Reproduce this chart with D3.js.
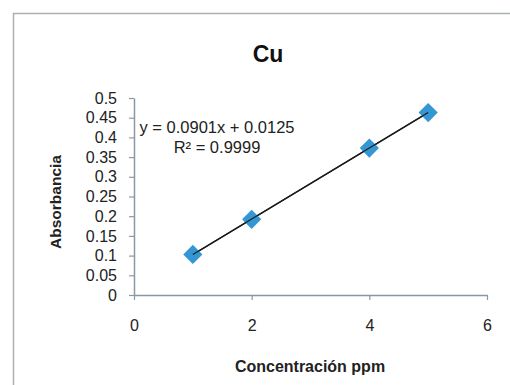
<!DOCTYPE html>
<html>
<head>
<meta charset="utf-8">
<script src="https://cdn.jsdelivr.net/npm/d3@7"></script>
<style>
  html, body { margin: 0; padding: 0; background: #fff; }
  svg { display: block; font-family: "Liberation Sans", Arial, sans-serif; }
</style>
</head>
<body>
<svg id="chart" width="510" height="385"></svg>
<script>
// Calibration data for copper
const concentration = [1, 2, 4, 5];          // ppm
const absorbance    = [0.103, 0.192, 0.373, 0.463];
const xTicks = [0, 2, 4, 6];
const yTicks = [0, 0.05, 0.1, 0.15, 0.2, 0.25, 0.3, 0.35, 0.4, 0.45, 0.5];
const fitSlope = 0.0901;
const fitIntercept = 0.0125;
const equationLines = ["y = 0.0901x + 0.0125", "R² = 0.9999"];

const svg = d3.select("#chart");
const axisColor = "#8a98a5";

// Chart frame
svg.append("rect")
  .attr("x", 13.5).attr("y", 13.5)
  .attr("width", 520).attr("height", 380)
  .attr("fill", "#fff")
  .attr("stroke", "#a9b0b6").attr("stroke-width", 1.5);

const x = d3.scaleLinear().domain([0, 6]).range([134, 487]);
const y = d3.scaleLinear().domain([0, 0.5]).range([295, 98]);

// Title
svg.append("text")
  .attr("x", 268).attr("y", 62)
  .attr("text-anchor", "middle")
  .attr("font-size", 23).attr("font-weight", "bold")
  .attr("fill", "#111")
  .text("Cu");

// Y axis
const yAxis = svg.append("g")
  .attr("transform", `translate(${x(0)},0)`)
  .call(d3.axisLeft(y).tickValues(yTicks).tickSize(5).tickSizeOuter(0).tickPadding(12)
    .tickFormat(d => String(+d.toFixed(2))));
// X axis
const xAxis = svg.append("g")
  .attr("transform", `translate(0,${y(0)})`)
  .call(d3.axisBottom(x).tickValues(xTicks).tickSize(5).tickSizeOuter(0).tickPadding(20)
    .tickFormat(d3.format("d")));

[yAxis, xAxis].forEach(g => {
  g.select(".domain").attr("stroke", axisColor).attr("stroke-width", 1.5);
  g.selectAll(".tick line").attr("stroke", axisColor).attr("stroke-width", 1.2);
  g.selectAll(".tick text")
    .attr("font-size", 16)
    .attr("font-family", "'Liberation Sans', Arial, sans-serif")
    .attr("fill", "#222");
});

// Axis titles
svg.append("text")
  .attr("transform", `translate(61,202) rotate(-90)`)
  .attr("text-anchor", "middle")
  .attr("font-size", 15.5).attr("font-weight", "bold")
  .attr("fill", "#222")
  .text("Absorbancia");

svg.append("text")
  .attr("x", 310).attr("y", 372)
  .attr("text-anchor", "middle")
  .attr("font-size", 16).attr("font-weight", "bold")
  .attr("fill", "#222")
  .text("Concentración ppm");

// Linear trendline over the measured range
const xr = d3.extent(concentration);
const fitLine = () => svg.append("line")
  .attr("x1", x(xr[0])).attr("y1", y(fitSlope * xr[0] + fitIntercept))
  .attr("x2", x(xr[1])).attr("y2", y(fitSlope * xr[1] + fitIntercept))
  .attr("stroke", "#1a1a1a");

fitLine().attr("stroke-width", 1.4);

// Data markers (diamonds)
const points = concentration.map((c, i) => ({ c, a: absorbance[i] }));
svg.append("g").selectAll("rect")
  .data(points)
  .join("rect")
  .attr("x", -6.8).attr("y", -6.8)
  .attr("width", 13.6).attr("height", 13.6)
  .attr("transform", d => `translate(${x(d.c)},${y(d.a)}) rotate(45)`)
  .attr("fill", "#3497d3");

// Fit line drawn again on top of the markers
fitLine().attr("stroke-width", 1.2);

// Regression equation label
svg.append("text")
  .attr("font-size", 16.5)
  .attr("fill", "#222")
  .attr("text-anchor", "middle")
  .selectAll("tspan")
  .data(equationLines)
  .join("tspan")
  .attr("x", 217)
  .attr("y", (d, i) => 133 + i * 20)
  .text(d => d);
</script>
</body>
</html>
